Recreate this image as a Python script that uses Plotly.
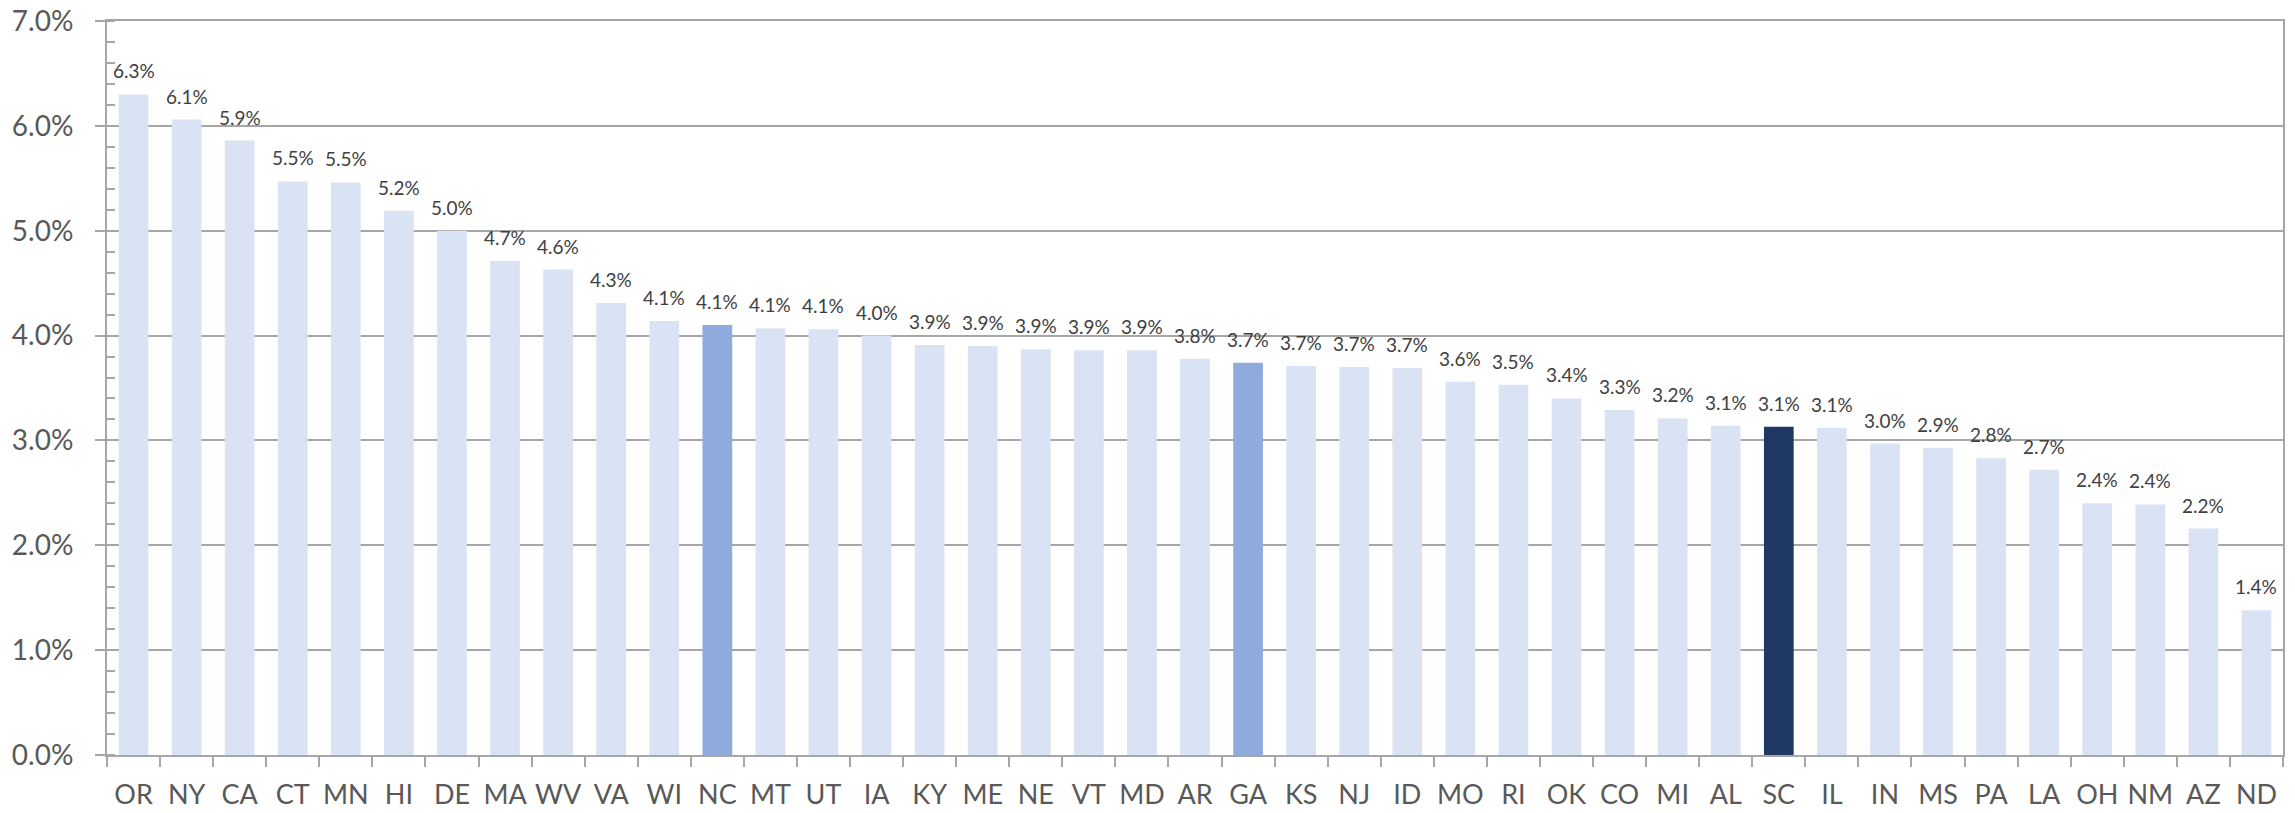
import plotly.graph_objects as go

states = ["OR", "NY", "CA", "CT", "MN", "HI", "DE", "MA", "WV", "VA", "WI", "NC", "MT", "UT",
          "IA", "KY", "ME", "NE", "VT", "MD", "AR", "GA", "KS", "NJ", "ID", "MO", "RI", "OK",
          "CO", "MI", "AL", "SC", "IL", "IN", "MS", "PA", "LA", "OH", "NM", "AZ", "ND"]
values_pct = [6.30, 6.06, 5.86, 5.47, 5.46, 5.19, 5.00, 4.71, 4.63, 4.31, 4.14, 4.10, 4.07, 4.06,
              4.00, 3.91, 3.90, 3.87, 3.86, 3.86, 3.78, 3.74, 3.71, 3.70, 3.69, 3.56, 3.53, 3.40,
              3.29, 3.21, 3.14, 3.13, 3.12, 2.97, 2.93, 2.83, 2.72, 2.40, 2.39, 2.16, 1.38]
highlight = {"NC": "#8FAADC", "GA": "#8FAADC", "SC": "#203864"}
base_color = "#DAE3F3"

values = [v / 100 for v in values_pct]
colors = [highlight.get(s, base_color) for s in states]
labels = [f"{v:.1f}%" for v in values_pct]

fig = go.Figure()
fig.add_trace(go.Bar(x=states, y=values, marker=dict(color=colors, line=dict(width=0)),
                     hoverinfo="x+y"))

for s, v, t in zip(states, values, labels):
    fig.add_annotation(x=s, y=v, text=t, showarrow=False, yanchor="bottom", yshift=10,
                       font=dict(family="Lato, 'Open Sans', sans-serif", size=19, color="#404040"))

axis_gray = "#A6A6A6"
fig.update_layout(
    width=2295, height=813,
    margin=dict(l=107, r=12, t=21, b=58, autoexpand=False),
    paper_bgcolor="white", plot_bgcolor="white",
    bargap=0.44, showlegend=False,
    font=dict(family="Lato, 'Open Sans', sans-serif", color="#595959"),
    xaxis=dict(
        type="category", showline=True, linecolor=axis_gray, linewidth=2, mirror=True,
        ticks="outside", tickson="boundaries", ticklen=10, tickwidth=2, tickcolor=axis_gray,
        tickfont=dict(size=27, color="#595959"), tickangle=0, automargin=False,
        ticklabelstandoff=15, ticklabeloverflow="allow",
        showgrid=False, zeroline=False, range=[-0.5, len(states) - 0.5],
    ),
    yaxis=dict(
        range=[0, 0.0700001], tick0=0, dtick=0.01, tickformat=".1%",
        showline=True, linecolor=axis_gray, linewidth=2, mirror=True,
        ticks="outside", ticklen=10, tickwidth=2, tickcolor=axis_gray,
        showgrid=True, gridcolor=axis_gray, gridwidth=2, zeroline=False,
        tickfont=dict(size=28, color="#595959"), ticklabelstandoff=16, automargin=False,
        ticklabeloverflow="allow",
        minor=dict(dtick=0.002, ticks="inside", ticklen=8, tickwidth=2, tickcolor=axis_gray,
                   showgrid=False),
    ),
)

fig.write_html("out.html", config={"displayModeBar": False},
               post_script="document.body.style.margin='0';document.body.style.overflow='hidden';")
